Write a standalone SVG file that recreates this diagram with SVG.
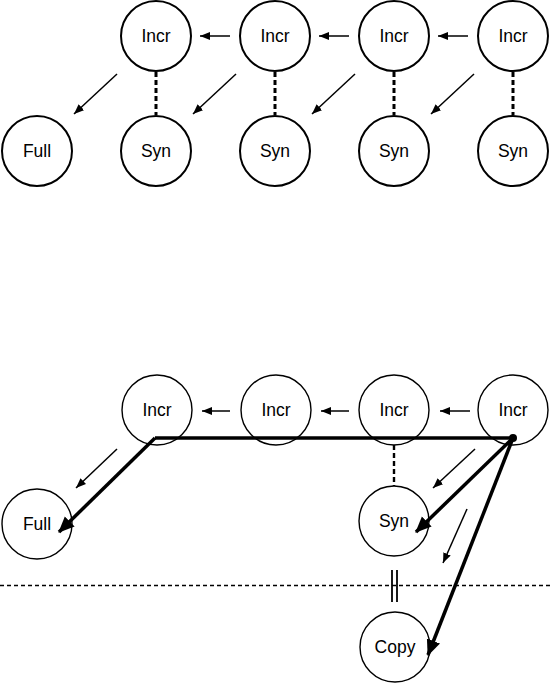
<svg xmlns="http://www.w3.org/2000/svg" width="550" height="684" viewBox="0 0 550 684">
<style>
.n1 circle{fill:#fff;stroke:#000;stroke-width:2}
.n2 circle{fill:#fff;stroke:#000;stroke-width:1.4}
text{font-family:"Liberation Sans",Arial,sans-serif;font-size:17.5px;text-anchor:middle;dominant-baseline:central;fill:#000}
.thin{stroke:#000;stroke-width:1.5;fill:none;marker-end:url(#ah)}
.dash1{stroke:#000;stroke-width:3;stroke-dasharray:5 3;fill:none}
.dash2{stroke:#000;stroke-width:2.4;stroke-dasharray:5 3;fill:none}
.thick{stroke:#000;stroke-width:3.5;fill:none}
.thicka{stroke:#000;stroke-width:3.5;fill:none;marker-end:url(#th)}
</style>
<defs>
<marker id="ah" markerUnits="userSpaceOnUse" markerWidth="12" markerHeight="10" refX="10" refY="5" orient="auto"><path d="M0,1 L10,5 L0,9 Z" fill="#000"/></marker>
<marker id="th" markerUnits="userSpaceOnUse" markerWidth="18" markerHeight="16" refX="15" refY="8" orient="auto"><path d="M0,1 L16,8 L0,15 Z" fill="#000"/></marker>
</defs>
<g id="connectors">
<line class="thin" x1="230" y1="36" x2="200" y2="36"/>
<line class="thin" x1="349" y1="36" x2="319" y2="36"/>
<line class="thin" x1="468" y1="36" x2="438" y2="36"/>
<line class="thin" x1="117" y1="74" x2="74" y2="114"/>
<line class="thin" x1="236" y1="74" x2="193" y2="114"/>
<line class="thin" x1="355" y1="74" x2="312" y2="114"/>
<line class="thin" x1="474" y1="74" x2="431" y2="114"/>
<line class="dash1" x1="156" y1="72" x2="156" y2="115"/>
<line class="dash1" x1="275" y1="72" x2="275" y2="115"/>
<line class="dash1" x1="394" y1="72" x2="394" y2="115"/>
<line class="dash1" x1="513" y1="72" x2="513" y2="115"/>
<line class="thin" x1="230" y1="411" x2="202" y2="411"/>
<line class="thin" x1="349" y1="411" x2="321" y2="411"/>
<line class="thin" x1="470" y1="411" x2="440" y2="411"/>
<line class="thin" x1="117" y1="449" x2="76" y2="488"/>
<line class="thin" x1="475" y1="449" x2="433" y2="488"/>
<line class="thin" x1="467" y1="509" x2="443" y2="563"/>
<line class="dash2" x1="394" y1="445" x2="394" y2="487"/>
<line stroke="#000" stroke-width="1.5" stroke-dasharray="4 3" x1="0" y1="585.5" x2="550" y2="585.5"/>
<line stroke="#000" stroke-width="1.8" x1="392" y1="570" x2="392" y2="602"/>
<line stroke="#000" stroke-width="1.8" x1="397" y1="570" x2="397" y2="602"/>
</g>
<g id="n-incr1" class="n1"><circle cx="156" cy="36" r="35"/><text x="156" y="36">Incr</text></g>
<g id="n-incr2" class="n1"><circle cx="275" cy="36" r="35"/><text x="275" y="36">Incr</text></g>
<g id="n-incr3" class="n1"><circle cx="394" cy="36" r="35"/><text x="394" y="36">Incr</text></g>
<g id="n-incr4" class="n1"><circle cx="513" cy="36" r="35"/><text x="513" y="36">Incr</text></g>
<g id="n-full" class="n1"><circle cx="37" cy="151" r="35"/><text x="37" y="151">Full</text></g>
<g id="n-syn1" class="n1"><circle cx="156" cy="151" r="35"/><text x="156" y="151">Syn</text></g>
<g id="n-syn2" class="n1"><circle cx="275" cy="151" r="35"/><text x="275" y="151">Syn</text></g>
<g id="n-syn3" class="n1"><circle cx="394" cy="151" r="35"/><text x="394" y="151">Syn</text></g>
<g id="n-syn4" class="n1"><circle cx="513" cy="151" r="35"/><text x="513" y="151">Syn</text></g>
<g id="n-bincr1" class="n2"><circle cx="157" cy="410" r="35"/><text x="157" y="410">Incr</text></g>
<g id="n-bincr2" class="n2"><circle cx="276" cy="410" r="35"/><text x="276" y="410">Incr</text></g>
<g id="n-bincr3" class="n2"><circle cx="394" cy="410" r="35"/><text x="394" y="410">Incr</text></g>
<g id="n-bincr4" class="n2"><circle cx="513" cy="410" r="35"/><text x="513" y="410">Incr</text></g>
<g id="n-bfull" class="n2"><circle cx="37" cy="524" r="35"/><text x="37" y="524">Full</text></g>
<g id="n-bsyn" class="n2"><circle cx="394" cy="521" r="35"/><text x="394" y="521">Syn</text></g>
<g id="n-copy" class="n2"><circle cx="395" cy="647" r="35"/><text x="395" y="647">Copy</text></g>
<g id="thick-path">
<polyline class="thick" points="155,438 513,438"/>
<line class="thicka" x1="155" y1="438" x2="59" y2="532"/>
<line class="thicka" x1="513" y1="438" x2="416" y2="532"/>
<line class="thicka" x1="513" y1="438" x2="428" y2="655"/>
<circle cx="513" cy="438" r="4" fill="#000"/>
</g>
</svg>
